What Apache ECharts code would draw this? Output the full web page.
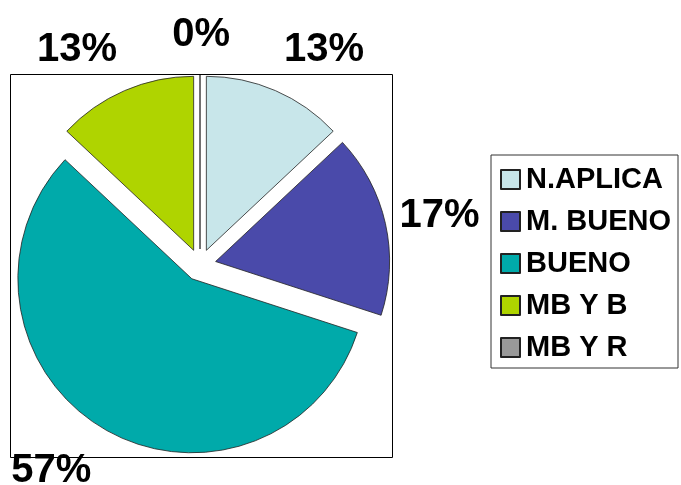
<!DOCTYPE html>
<html>
<head>
<meta charset="utf-8">
<script src="https://cdn.jsdelivr.net/npm/echarts@6/dist/echarts.min.js"></script>
<style>html,body{margin:0;padding:0;background:#fff;}#c{width:681px;height:485px;}</style>
</head>
<body>
<div id="c"></div>
<script>
const categories = ['N.APLICA', 'M. BUENO', 'BUENO', 'MB Y B', 'MB Y R'];
const values = [13, 17, 57, 13, 0];
const colors = ['#C8E6EA', '#4A4AAA', '#00AAAA', '#AFD400', '#999999'];
// label leader distances (radial, horizontal) per slice, labels only
const labelLen = [44, 36, 49, 44, 40];
const labelLen2 = [-14, -26, -18, -15, -35];

const chart = echarts.init(document.getElementById('c'), null, {renderer: 'canvas'});
const FONT = '"Liberation Sans", Arial, sans-serif';
chart.setOption({
  animation: false,
  backgroundColor: '#ffffff',
  graphic: [{
    type: 'rect',
    shape: {x: 10.5, y: 74.5, width: 382, height: 383},
    style: {fill: 'none', stroke: '#000', lineWidth: 1},
    z: 0
  }],
  legend: {
    orient: 'vertical',
    left: 491, top: 155,
    borderColor: '#333', borderWidth: 1,
    padding: [10, 7, 6, 9],
    itemWidth: 19, itemHeight: 19, itemGap: 13,
    icon: 'rect',
    selectedMode: false,
    textStyle: {fontSize: 29, fontWeight: 'bold', color: '#000', fontFamily: FONT, padding: [0,0,0,1]},
    data: categories
  },
  series: [{
    type: 'pie',
    center: [200, 265],
    radius: 174,
    startAngle: 90,
    clockwise: true,
    selectedMode: 'multiple',
    selectedOffset: 16,
    avoidLabelOverlap: false,
    percentPrecision: 0,
    emphasis: {disabled: true},
    itemStyle: {borderColor: '#222', borderWidth: 0.8},
    label: {
      show: true, position: 'outside', formatter: '{d}%',
      fontSize: 40, fontWeight: 'bold', color: '#000', fontFamily: FONT
    },
    labelLine: {show: false},
    data: categories.map((n, i) => ({
      name: n, value: values[i], selected: true,
      itemStyle: {color: colors[i]},
      labelLine: {show: false, length: labelLen[i], length2: labelLen2[i]}
    }))
  }]
});
</script>
</body>
</html>
